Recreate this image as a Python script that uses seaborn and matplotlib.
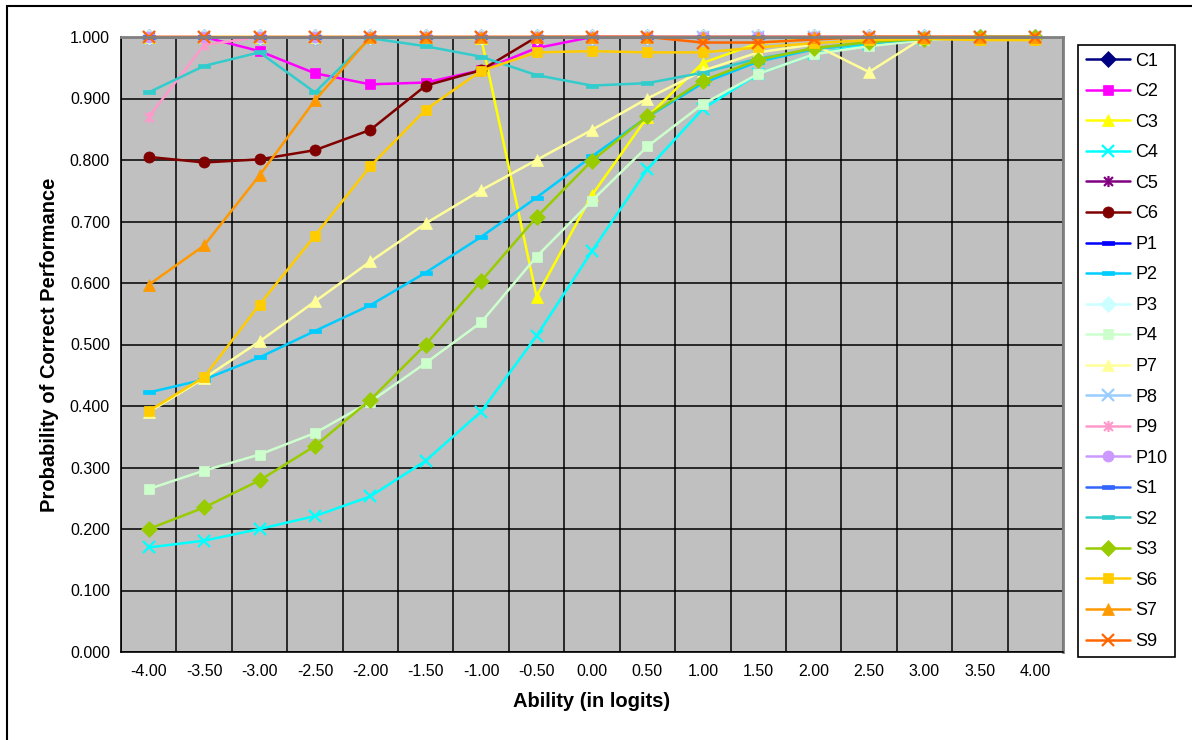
import numpy as np
import pandas as pd
import matplotlib
matplotlib.use("Agg")
import matplotlib.pyplot as plt
import seaborn as sns
from matplotlib.path import Path
from matplotlib.patches import Rectangle

# ---------------- data ----------------
abilities = ["-4.00", "-3.50", "-3.00", "-2.50", "-2.00", "-1.50", "-1.00", "-0.50",
             "0.00", "0.50", "1.00", "1.50", "2.00", "2.50", "3.00", "3.50", "4.00"]

C1 = [1.000, 1.000, 1.000, 1.000, 1.000, 1.000, 1.000, 1.000, 1.000, 1.000, 1.000, 1.000, 1.000, 1.000, 1.000, 1.000, 1.000]
C2 = [1.000, 1.000, 0.977, 0.941, 0.923, 0.926, 0.946, 0.982, 1.000, 1.000, 1.000, 1.000, 1.000, 1.000, 1.000, 1.000, 1.000]
C3 = [1.000, 1.000, 1.000, 1.000, 1.000, 1.000, 0.998, 0.578, 0.743, 0.870, 0.958, 0.990, 0.997, 1.000, 1.000, 1.000, 1.000]
C4 = [0.170, 0.181, 0.200, 0.221, 0.253, 0.311, 0.391, 0.514, 0.652, 0.785, 0.883, 0.940, 0.972, 0.988, 0.996, 1.000, 1.000]
C5 = [1.000, 1.000, 1.000, 1.000, 1.000, 1.000, 1.000, 1.000, 1.000, 1.000, 1.000, 1.000, 1.000, 1.000, 1.000, 1.000, 1.000]
C6 = [0.805, 0.796, 0.801, 0.816, 0.849, 0.921, 0.946, 1.000, 1.000, 1.000, 1.000, 1.000, 1.000, 1.000, 1.000, 1.000, 1.000]
P1 = [1.000, 1.000, 1.000, 1.000, 1.000, 1.000, 1.000, 1.000, 1.000, 1.000, 1.000, 1.000, 1.000, 1.000, 1.000, 1.000, 1.000]
P2 = [0.422, 0.443, 0.479, 0.522, 0.564, 0.617, 0.675, 0.739, 0.806, 0.870, 0.925, 0.960, 0.980, 0.990, 0.996, 1.000, 1.000]
P3 = [1.000, 1.000, 1.000, 1.000, 1.000, 1.000, 1.000, 1.000, 1.000, 1.000, 1.000, 1.000, 1.000, 1.000, 1.000, 1.000, 1.000]
P4 = [0.265, 0.295, 0.321, 0.356, 0.407, 0.470, 0.536, 0.643, 0.734, 0.822, 0.891, 0.940, 0.972, 0.985, 0.995, 1.000, 1.000]
P7 = [0.390, 0.445, 0.505, 0.570, 0.635, 0.697, 0.751, 0.800, 0.849, 0.900, 0.945, 0.975, 0.988, 0.943, 1.000, 1.000, 1.000]
P8 = [1.000, 1.000, 1.000, 1.000, 1.000, 1.000, 1.000, 1.000, 1.000, 1.000, 1.000, 1.000, 1.000, 1.000, 1.000, 1.000, 1.000]
P9 = [0.870, 0.987, 1.000, 1.000, 1.000, 1.000, 1.000, 1.000, 1.000, 1.000, 1.000, 1.000, 1.000, 1.000, 1.000, 1.000, 1.000]
P10 = [1.000, 1.000, 1.000, 1.000, 1.000, 1.000, 1.000, 1.000, 1.000, 1.000, 1.000, 1.000, 1.000, 1.000, 1.000, 1.000, 1.000]
S1 = [1.000, 1.000, 1.000, 1.000, 1.000, 1.000, 1.000, 1.000, 1.000, 1.000, 1.000, 1.000, 1.000, 1.000, 1.000, 1.000, 1.000]
S2 = [0.910, 0.953, 0.975, 0.910, 0.998, 0.985, 0.968, 0.938, 0.921, 0.925, 0.942, 0.965, 0.980, 0.990, 0.997, 1.000, 1.000]
S3 = [0.200, 0.235, 0.279, 0.335, 0.410, 0.500, 0.603, 0.707, 0.799, 0.871, 0.929, 0.963, 0.982, 0.992, 0.997, 1.000, 1.000]
S6 = [0.392, 0.447, 0.565, 0.677, 0.790, 0.882, 0.945, 0.975, 0.977, 0.975, 0.975, 0.983, 0.990, 0.995, 0.997, 0.995, 0.995]
S7 = [0.597, 0.661, 0.775, 0.897, 1.000, 1.000, 1.000, 1.000, 1.000, 1.000, 1.000, 1.000, 1.000, 1.000, 1.000, 1.000, 1.000]
S9 = [1.000, 1.000, 1.000, 1.000, 1.000, 1.000, 1.000, 1.000, 1.000, 1.000, 0.991, 0.991, 0.996, 1.000, 1.000, 1.000, 1.000]

series_names = ["C1", "C2", "C3", "C4", "C5", "C6", "P1", "P2", "P3", "P4",
                "P7", "P8", "P9", "P10", "S1", "S2", "S3", "S6", "S7", "S9"]
series_values = [C1, C2, C3, C4, C5, C6, P1, P2, P3, P4,
                 P7, P8, P9, P10, S1, S2, S3, S6, S7, S9]

# ---------------- styles ----------------
dash = Path([(-1, -0.38), (1, -0.38), (1, 0.38), (-1, 0.38), (-1, -0.38)],
            [Path.MOVETO, Path.LINETO, Path.LINETO, Path.LINETO, Path.CLOSEPOLY])
aster = Path([(-1, -1), (1, 1), (-1, 1), (1, -1), (0, -1.25), (0, 1.25)],
             [Path.MOVETO, Path.LINETO, Path.MOVETO, Path.LINETO, Path.MOVETO, Path.LINETO])

colors = ["#000080", "#FF00FF", "#FFFF00", "#00FFFF", "#800080", "#800000",
          "#0000FF", "#00CCFF", "#CCFFFF", "#CCFFCC", "#FFFF99", "#99CCFF",
          "#FF99CC", "#CC99FF", "#3366FF", "#33CCCC", "#99CC00", "#FFCC00",
          "#FF9900", "#FF6600"]
markers = ["D", "s", "^", "x", aster, "o", dash, dash, "D", "s",
           "^", "x", aster, "o", dash, dash, "D", "s", "^", "x"]
msizes = {"D": 8, "s": 7.5, "^": 8.5, "x": 8, "o": 8}

sns.set_style("white", {"axes.facecolor": "#C0C0C0"})
plt.rcParams["font.family"] = ["Liberation Sans", "DejaVu Sans"]
plt.rcParams["text.color"] = "black"
plt.rcParams["axes.labelcolor"] = "black"
plt.rcParams["xtick.color"] = "black"
plt.rcParams["ytick.color"] = "black"

W, H = 1192, 740
fig = plt.figure(figsize=(W / 100, H / 100), dpi=100)
ax = fig.add_axes([121 / W, 88 / H, 942 / W, 615 / H])
ax.set_facecolor("#C0C0C0")

x_idx = np.arange(len(abilities))
handles = []
for name, vals, col, mk in zip(series_names, series_values, colors, markers):
    df = pd.DataFrame({"x": x_idx, "p": vals})
    if isinstance(mk, str):
        ms = msizes[mk]
    else:
        ms = 8 if mk is aster else 9
    line_marker = mk in ("x",) or mk is aster
    sns.lineplot(data=df, x="x", y="p", ax=ax, color=col, linewidth=1.8,
                 marker=mk, markersize=ms,
                 markerfacecolor=col, markeredgecolor=col,
                 markeredgewidth=1.6 if line_marker else 0.5,
                 clip_on=False, legend=False)
    handles.append(ax.lines[-1])

ax.set_xlim(-0.5, len(abilities) - 0.5)
ax.set_ylim(0, 1.0)
ax.set_xticks(x_idx)
ax.set_xticklabels(abilities)
ax.set_xticks(np.arange(-0.5, len(abilities), 1.0), minor=True)
ax.tick_params(axis="x", which="major", length=0, pad=9, labelsize=11.5, labelcolor="black")
ax.tick_params(axis="x", which="minor", length=5, width=1, color="black", direction="out")
yt = np.round(np.arange(0, 1.01, 0.1), 1)
ax.set_yticks(yt)
ax.set_yticklabels([f"{v:.3f}" for v in yt])
ax.tick_params(axis="y", which="major", length=5, width=1, color="black",
               direction="out", pad=3, labelsize=11.5, labelcolor="black")
ax.grid(False)
ax.grid(True, axis="y", which="major", color="black", linewidth=1.1)
ax.grid(True, axis="x", which="minor", color="black", linewidth=1.1)
ax.set_axisbelow(True)
for s in ["left", "bottom"]:
    ax.spines[s].set_color("black")
    ax.spines[s].set_linewidth(1.2)
for s in ["top", "right"]:
    ax.spines[s].set_color("#808080")
    ax.spines[s].set_linewidth(2)

ax.set_xlabel("Ability (in logits)", fontsize=14.5, fontweight="bold", labelpad=9, color="black")
ax.set_ylabel("Probability of Correct Performance", fontsize=14.5, fontweight="bold",
              labelpad=8, color="black")

leg = ax.legend(handles, series_names, loc="upper left",
                bbox_to_anchor=(1078 / W, 1 - 45 / H), bbox_transform=fig.transFigure,
                frameon=True, fancybox=False, edgecolor="black", facecolor="white",
                framealpha=1, fontsize=13, handlelength=2.45, labelspacing=0.75,
                handletextpad=0.3, borderpad=0.42, borderaxespad=0)
leg.get_frame().set_linewidth(1.2)
for t in leg.get_texts():
    t.set_color("black")

fig.patches.append(Rectangle((7 / W, -0.1), 2, 1 - 6 / H + 0.1, transform=fig.transFigure,
                             fill=False, edgecolor="black", linewidth=1.5))

fig.savefig("out.png", dpi=100, facecolor="white")
